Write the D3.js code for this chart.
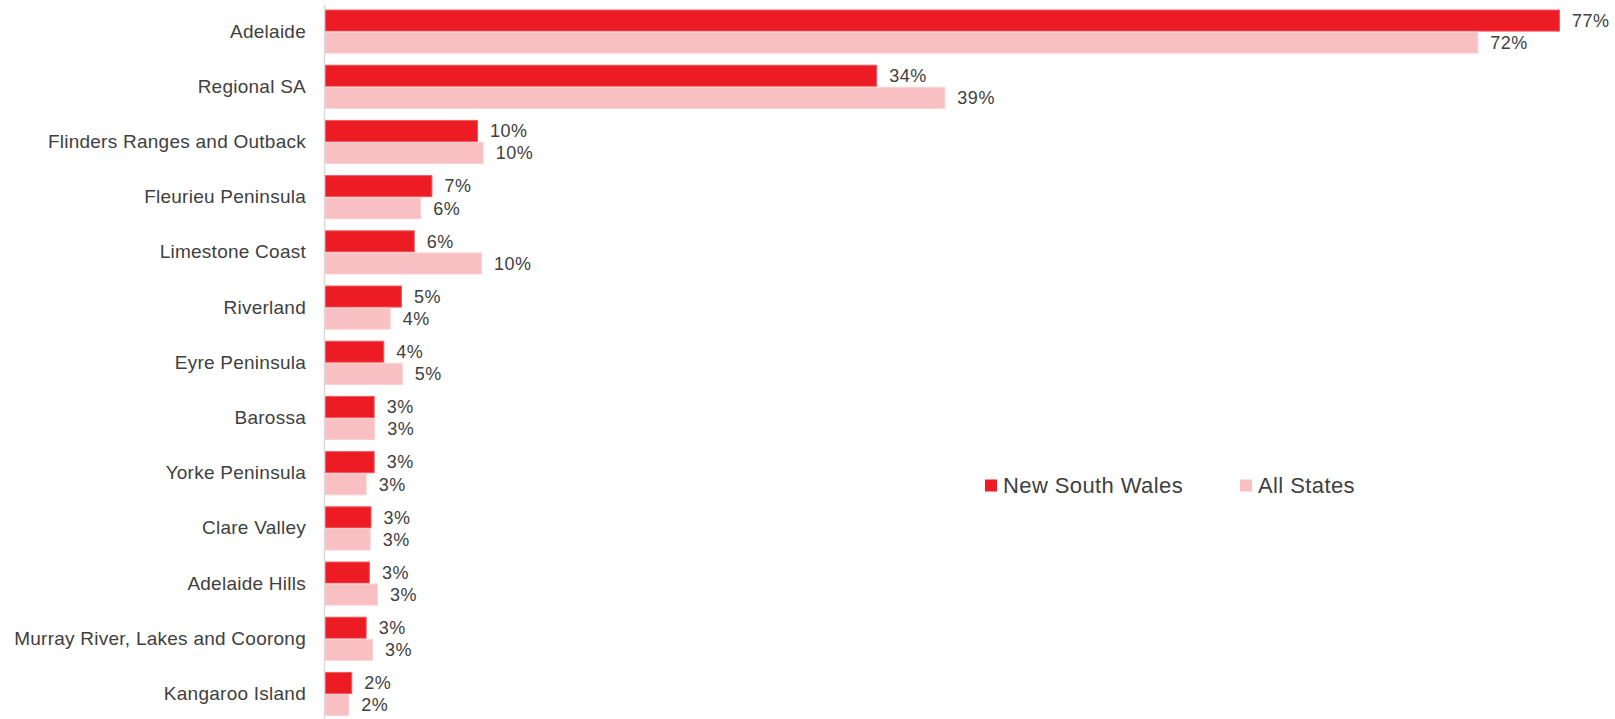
<!DOCTYPE html>
<html>
<head>
<meta charset="utf-8">
<script src="https://cdn.jsdelivr.net/npm/d3@7"></script>
<style>
  html, body { margin: 0; padding: 0; background: #fff; }
  svg text { font-family: "Liberation Sans", Arial, sans-serif; fill: #404040; }
</style>
</head>
<body>
<div id="chart"></div>
<script>
// Data (share of visitors)
const regions = [
  "Adelaide", "Regional SA", "Flinders Ranges and Outback", "Fleurieu Peninsula",
  "Limestone Coast", "Riverland", "Eyre Peninsula", "Barossa", "Yorke Peninsula",
  "Clare Valley", "Adelaide Hills", "Murray River, Lakes and Coorong", "Kangaroo Island"
];
const seriesNames = ["New South Wales", "All States"];
const nswValues = [0.7704, 0.3445, 0.0955, 0.067, 0.056, 0.048, 0.037, 0.031, 0.031, 0.029, 0.028, 0.026, 0.017];
const allValues = [0.7195, 0.387, 0.099, 0.060, 0.098, 0.041, 0.0485, 0.0313, 0.026, 0.0285, 0.033, 0.030, 0.0152];

const colors = { "New South Wales": "#ed1c24", "All States": "#f9c0c3" };
const strokes = { "New South Wales": "#f05a5f", "All States": "#fbd0d2" };

const w = 1615, h = 719;
const axisX = 324;

const svg = d3.select("#chart")
  .append("svg")
  .attr("width", w)
  .attr("height", h);

// scales
const y0 = d3.scaleBand()
  .domain(regions)
  .range([4, 721.6])
  .paddingInner(0.2)
  .paddingOuter(0.1);

const y1 = d3.scaleBand()
  .domain(seriesNames)
  .range([0, y0.bandwidth()]);

const x = d3.scaleLinear()
  .domain([0, 0.8])
  .range([axisX + 1, axisX + 1 + 80 * 16.03]);

const rows = regions.map((r, i) => ({
  region: r,
  vals: [
    { name: seriesNames[0], v: nswValues[i] },
    { name: seriesNames[1], v: allValues[i] }
  ]
}));

// bars
const groups = svg.selectAll("g.row")
  .data(rows)
  .enter()
  .append("g")
  .attr("class", "row")
  .attr("transform", d => `translate(0, ${y0(d.region)})`);

groups.selectAll("rect")
  .data(d => d.vals)
  .enter()
  .append("rect")
  .attr("x", x(0))
  .attr("y", d => y1(d.name) + 0.5)
  .attr("width", d => x(d.v) - x(0) - 0.5)
  .attr("height", y1.bandwidth() - 1)
  .attr("fill", d => colors[d.name])
  .attr("stroke", d => strokes[d.name])
  .attr("stroke-width", 1);

groups.selectAll("text.val")
  .data(d => d.vals)
  .enter()
  .append("text")
  .attr("class", "val")
  .attr("x", d => x(d.v) + 12)
  .attr("y", d => y1(d.name) + y1.bandwidth() / 2)
  .attr("dy", "0.35em")
  .style("font-size", "18px")
  .style("letter-spacing", "0.5px")
  .text(d => Math.round(d.v * 100) + "%");

// category axis
const yAxis = d3.axisLeft(y0)
  .tickSize(0)
  .tickSizeOuter(0)
  .tickPadding(18);

const ax = svg.append("g")
  .attr("transform", `translate(${axisX}, 0)`)
  .call(yAxis);

ax.select(".domain")
  .attr("stroke", "#d9d9d9")
  .attr("stroke-width", 1.5);

ax.selectAll(".tick text")
  .style("font-size", "19px")
  .style("letter-spacing", "0.25px")
  .style("font-family", "'Liberation Sans', Arial, sans-serif")
  .attr("fill", "#404040");

// legend
const legend = svg.append("g")
  .attr("transform", "translate(985, 485.5)");

const legendItems = legend.selectAll("g")
  .data(seriesNames)
  .enter()
  .append("g")
  .attr("transform", (d, i) => `translate(${i * 255}, 0)`);

legendItems.append("rect")
  .attr("x", 0)
  .attr("y", -6)
  .attr("width", 12)
  .attr("height", 12)
  .attr("fill", d => colors[d]);

legendItems.append("text")
  .attr("x", 18)
  .attr("y", 0)
  .attr("dy", "0.35em")
  .style("font-size", "22px")
  .style("letter-spacing", "0.4px")
  .text(d => d);
</script>
</body>
</html>
